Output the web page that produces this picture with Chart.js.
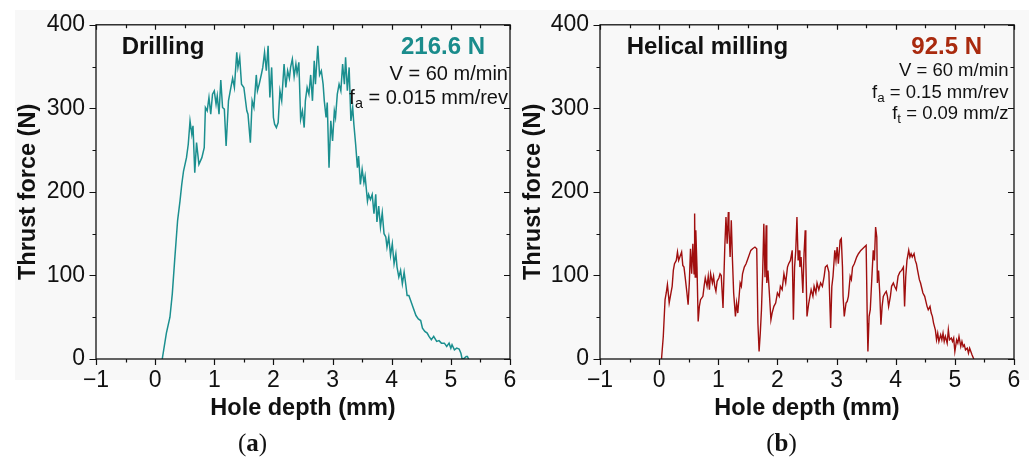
<!DOCTYPE html>
<html><head><meta charset="utf-8">
<script src="https://cdn.jsdelivr.net/npm/chart.js@4"></script>
<style>
html,body{margin:0;padding:0}
body{width:1029px;height:458px;background:#fff;position:relative;overflow:hidden;font-family:"Liberation Sans",Arial,sans-serif;color:#111}
#bg{position:absolute;left:15px;top:10px;width:1014px;height:370px;background:#f8f8f8}
canvas{position:absolute;top:0}
.t{position:absolute;line-height:1;white-space:nowrap}
.b{font-weight:bold}
.r{text-align:right}
.s{font-size:0.72em;position:relative;top:0.28em}
.cap{position:absolute;width:100px;text-align:center;line-height:1;font-family:"Liberation Serif","Times New Roman",serif;font-size:25px;color:#111}
</style></head>
<body>
<div id="bg"></div>
<canvas id="c1" width="525" height="458" style="left:0px;width:525px;height:458px"></canvas>
<canvas id="c2" width="524" height="458" style="left:505px;width:524px;height:458px"></canvas>

<div class="t b" style="left:121.7px;top:33.7px;font-size:24px">Drilling</div>
<div class="t b r" style="right:544px;top:33.7px;font-size:24px;color:#1a8c8c">216.6 N</div>
<div class="t r" style="right:521px;top:63.1px;font-size:20px">V = 60 m/min</div>
<div class="t r" style="right:521px;top:87.1px;font-size:20px">f<span class="s">a</span> = 0.015 mm/rev</div>

<div class="t b" style="left:626.7px;top:33.7px;font-size:24px">Helical milling</div>
<div class="t b r" style="right:47px;top:34px;font-size:24px;color:#a92a0e">92.5 N</div>
<div class="t r" style="right:20.5px;top:61.3px;font-size:18.5px">V = 60 m/min</div>
<div class="t r" style="right:20.5px;top:82.8px;font-size:18.5px">f<span class="s">a</span> = 0.15 mm/rev</div>
<div class="t r" style="right:20.5px;top:104.3px;font-size:18.5px">f<span class="s">t</span> = 0.09 mm/z</div>

<div class="cap" style="left:202.5px;top:430.1px">(<b>a</b>)</div>
<div class="cap" style="left:731.5px;top:430.1px">(<b>b</b>)</div>

<script>
// ---- data ----
const xTicks = [-1, 0, 1, 2, 3, 4, 5, 6];
const yTicks = [0, 100, 200, 300, 400];

const drillX = [
0.12,0.19,0.25,0.29,0.33,0.38,0.42,0.45,0.48,0.53,
0.56,0.59,0.62,0.64,0.67,0.70,0.74,0.79,0.83,0.85,
0.88,0.91,0.94,0.97,1.00,1.03,1.05,1.08,1.11,1.14,
1.17,1.20,1.24,1.27,1.31,1.34,1.38,1.40,1.43,1.46,
1.50,1.55,1.57,1.61,1.64,1.67,1.71,1.73,1.76,1.80,
1.82,1.85,1.88,1.91,1.94,1.97,2.00,2.02,2.05,2.08,
2.11,2.14,2.18,2.21,2.24,2.27,2.29,2.32,2.35,2.38,
2.40,2.43,2.46,2.49,2.52,2.54,2.57,2.60,2.63,2.66,
2.69,2.71,2.75,2.78,2.81,2.84,2.86,2.89,2.91,2.94,
2.97,3.00,3.03,3.05,3.08,3.11,3.14,3.17,3.20,3.22,
3.25,3.28,3.31,3.34,3.36,3.39,3.42,3.44,3.47,3.50,
3.53,3.55,3.59,3.61,3.64,3.67,3.70,3.73,3.75,3.78,
3.81,3.84,3.87,3.90,3.92,3.95,3.98,4.01,4.04,4.07,
4.09,4.12,4.15,4.18,4.21,4.24,4.26,4.29,4.32,4.36,
4.41,4.45,4.49,4.52,4.56,4.60,4.63,4.67,4.71,4.76,
4.80,4.84,4.89,4.93,4.97,5.00,5.02,5.06,5.10,5.14,
5.17,5.19,5.23,5.26,5.28,5.30];
const drillY = [
0,31,50,78,118,166,189,209,225,241,
257,285,269,279,223,259,233,241,253,301,
297,313,293,317,321,305,315,293,334,301,
299,255,309,321,336,325,367,349,361,329,
325,297,293,259,309,301,340,321,329,342,
349,367,345,375,313,349,289,281,277,283,
321,309,353,325,345,336,349,359,338,353,
342,355,287,297,277,309,325,317,340,309,
357,329,375,340,345,329,309,289,307,229,
285,261,297,289,317,329,321,353,329,361,
321,349,285,301,281,257,229,243,209,227,
211,219,189,197,191,197,174,197,164,183,
158,175,150,146,134,146,124,138,114,126,
110,98,106,90,104,88,76,76,70,62,
52,48,46,37,33,31,27,23,27,21,
22,19,19,15,19,13,17,11,13,12,
7,0,1,3,3,0];

const millX = [
0.04,0.07,0.10,0.12,0.14,0.16,0.17,0.20,0.22,0.24,
0.26,0.29,0.31,0.33,0.35,0.38,0.40,0.42,0.44,0.47,
0.49,0.51,0.53,0.55,0.57,0.59,0.60,0.61,0.62,0.64,
0.66,0.68,0.70,0.74,0.76,0.78,0.81,0.83,0.85,0.87,
0.90,0.92,0.94,0.96,0.98,1.01,1.03,1.05,1.08,1.11,
1.13,1.15,1.17,1.18,1.20,1.22,1.24,1.26,1.29,1.31,
1.33,1.37,1.39,1.41,1.44,1.47,1.50,1.55,1.58,1.62,
1.65,1.67,1.69,1.71,1.73,1.75,1.77,1.79,1.81,1.82,
1.84,1.86,1.89,1.91,1.94,1.97,2.00,2.03,2.05,2.08,
2.11,2.14,2.17,2.19,2.22,2.25,2.27,2.29,2.31,2.33,
2.35,2.37,2.38,2.40,2.43,2.45,2.47,2.48,2.50,2.53,
2.55,2.57,2.60,2.62,2.65,2.67,2.70,2.73,2.76,2.79,
2.81,2.84,2.87,2.90,2.92,2.94,2.97,2.99,3.01,3.03,
3.06,3.08,3.10,3.11,3.13,3.16,3.18,3.20,3.23,3.25,
3.27,3.30,3.34,3.37,3.41,3.44,3.47,3.50,3.52,3.53,
3.55,3.57,3.60,3.62,3.64,3.66,3.68,3.69,3.71,3.73,
3.75,3.77,3.79,3.82,3.84,3.86,3.88,3.91,3.93,3.96,
3.98,4.01,4.04,4.07,4.10,4.13,4.15,4.17,4.19,4.22,
4.24,4.26,4.28,4.31,4.33,4.35,4.37,4.40,4.42,4.44,
4.46,4.49,4.51,4.53,4.55,4.58,4.60,4.62,4.64,4.67,
4.69,4.71,4.73,4.76,4.78,4.80,4.82,4.84,4.87,4.89,
4.91,4.94,4.96,4.98,5.00,5.03,5.05,5.07,5.10,5.12,
5.14,5.16,5.18,5.21,5.23,5.25,5.27,5.29,5.32];
const millY = [
0,27,71,79,89,75,67,79,87,106,
114,118,128,118,122,128,112,110,98,79,
65,91,132,102,138,102,174,98,154,110,
45,63,71,75,87,97,87,99,83,102,
91,99,87,81,93,97,102,100,61,134,
170,138,176,158,122,166,118,79,51,67,
55,91,87,102,110,114,120,130,132,134,
132,43,9,31,59,102,162,98,160,91,
106,83,47,55,63,67,79,75,87,83,
102,91,110,114,118,130,47,110,130,170,
118,130,110,122,79,126,154,118,51,67,
75,83,75,87,79,91,83,91,87,99,
110,112,104,37,87,99,130,118,134,114,
142,144,110,75,51,67,69,75,99,95,
110,114,122,126,130,132,134,136,43,9,
51,59,102,130,118,158,146,91,106,79,
41,63,75,79,81,75,63,75,87,91,
87,83,99,104,106,110,63,99,118,130,
122,126,122,126,118,114,106,95,91,85,
79,75,69,63,59,63,55,51,43,35,
23,31,21,29,23,31,21,27,19,35,
23,25,21,25,9,23,19,27,15,21,
15,17,11,13,7,13,9,5,0];

const FONT = '"Liberation Sans", Arial, sans-serif';

const framePlugin = {
  id: 'frame',
  afterDatasetsDraw(chart) {
    const {ctx, chartArea: a, scales: {x, y}} = chart;
    ctx.save();
    ctx.strokeStyle = '#111';
    ctx.lineWidth = 1.3;
    ctx.strokeRect(a.left, a.top, a.right - a.left, a.bottom - a.top);
    ctx.lineWidth = 1.2;
    ctx.beginPath();
    for (let v = x.min; v <= x.max + 1e-9; v += 0.5) {
      const p = Math.round(x.getPixelForValue(v)) + 0.5;
      const major = Math.abs(v - Math.round(v)) < 1e-6;
      ctx.moveTo(p, a.bottom); ctx.lineTo(p, a.bottom + (major ? 6 : 3.5));
      ctx.moveTo(p, a.top); ctx.lineTo(p, a.top + (major ? 5 : 3.5));
    }
    for (let v = y.min; v <= y.max + 1e-9; v += 50) {
      const p = Math.round(y.getPixelForValue(v)) + 0.5;
      const major = v % 100 === 0;
      ctx.moveTo(a.left, p); ctx.lineTo(a.left - (major ? 6.5 : 3.5), p);
      ctx.moveTo(a.right, p); ctx.lineTo(a.right - (major ? 6 : 3.5), p);
    }
    ctx.stroke();
    ctx.restore();
  }
};

function makeChart(id, xs, ys, color, lw, yAxisW) {
  return new Chart(document.getElementById(id), {
    type: 'line',
    data: { datasets: [{
      data: xs.map((x, i) => ({x: x, y: ys[i]})),
      borderColor: color, borderWidth: lw, pointRadius: 0, tension: 0, fill: false
    }]},
    options: {
      responsive: false, animation: false, devicePixelRatio: 1,
      layout: { padding: { left: 0, right: 15, top: 23, bottom: 0 } },
      plugins: { legend: { display: false }, tooltip: { enabled: false } },
      scales: {
        x: {
          type: 'linear', min: -1, max: 6,
          afterFit(s) { s.height = 99; },
          afterBuildTicks(s) { s.ticks = xTicks.map(v => ({value: v})); },
          grid: { display: false, drawTicks: false }, border: { display: false },
          ticks: { padding: 8, color: '#111', maxRotation: 0, autoSkip: false,
                   font: { size: 23, family: FONT },
                   callback: v => String(v).replace('-', '\u2212') },
          title: { display: true, text: 'Hole depth (mm)', color: '#111',
                   font: { size: 23.5, weight: 'bold', family: FONT },
                   padding: { top: 0, bottom: 35 } }
        },
        y: {
          type: 'linear', min: 0, max: 400,
          afterFit(s) { s.width = yAxisW; },
          afterBuildTicks(s) { s.ticks = yTicks.map(v => ({value: v})); },
          grid: { display: false, drawTicks: false }, border: { display: false },
          ticks: { padding: 11, color: '#111', font: { size: 23, family: FONT } },
          title: { display: true, text: 'Thrust force (N)', color: '#111',
                   font: { size: 23.5, weight: 'bold', family: FONT },
                   padding: { top: 14, bottom: 0 } }
        }
      }
    },
    plugins: [framePlugin]
  });
}

makeChart('c1', drillX, drillY, '#1b8f8f', 1.5, 96);
makeChart('c2', millX, millY, '#a00f0f', 1.4, 95);
</script>
</body></html>
